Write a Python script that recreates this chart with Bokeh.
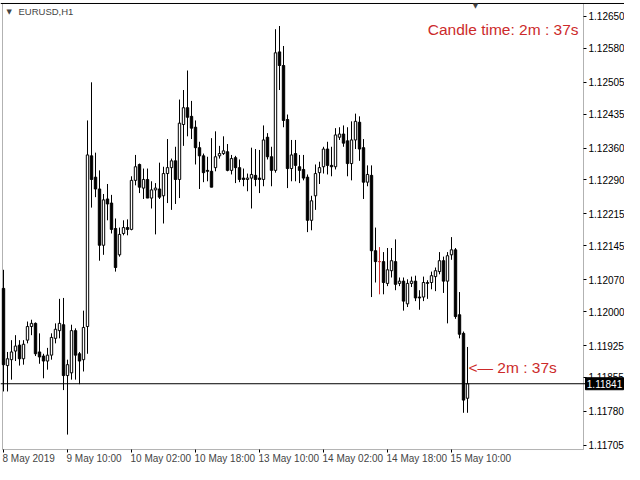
from bokeh.core.properties import value
from bokeh.embed import file_html
from bokeh.models import (BoxAnnotation, ColumnDataSource, FixedTicker, Label, LinearAxis,
                          PrintfTickFormatter, Range1d, Span)
from bokeh.plotting import figure
from bokeh.resources import INLINE

# EURUSD H1 bars, 8 May 2019 18:00 .. 15 May 2019 14:00
symbol = "EURUSD,H1"
opens = [
    1.12051, 1.11881, 1.11894, 1.11913, 1.11926, 1.11896, 1.11937, 1.11967,
    1.11974, 1.11911, 1.11902, 1.11891, 1.11904, 1.11941, 1.11958, 1.11971,
    1.11859, 1.11865, 1.11958, 1.11907, 1.11894, 1.11967, 1.12343, 1.12296,
    1.12270, 1.12146, 1.12248, 1.12239, 1.12183, 1.12125, 1.12172, 1.12185,
    1.12181, 1.12289, 1.12324, 1.12272, 1.12291, 1.12250, 1.12268, 1.12270,
    1.12255, 1.12304, 1.12317, 1.12332, 1.12291, 1.12412, 1.12449, 1.12430,
    1.12406, 1.12361, 1.12343, 1.12311, 1.12309, 1.12317, 1.12343, 1.12348,
    1.12352, 1.12311, 1.12339, 1.12317, 1.12294, 1.12291, 1.12294, 1.12300,
    1.12294, 1.12291, 1.12384, 1.12341, 1.12311, 1.12572, 1.12542, 1.12423,
    1.12315, 1.12348, 1.12319, 1.12313, 1.12296, 1.12201, 1.12255, 1.12306,
    1.12319, 1.12358, 1.12322, 1.12319, 1.12384, 1.12391, 1.12376, 1.12326,
    1.12378, 1.12417, 1.12361, 1.12285, 1.12300, 1.12134, 1.12110, 1.12110,
    1.12062, 1.12090, 1.12110, 1.12062, 1.12067, 1.12017, 1.12062, 1.12067,
    1.12032, 1.12032, 1.12062, 1.12064, 1.12077, 1.12088, 1.12112, 1.12067,
    1.12125, 1.12136, 1.11993, 1.11952, 1.11809,
]
highs = [
    1.12092, 1.11911, 1.11937, 1.11948, 1.11937, 1.11937, 1.11978, 1.11982,
    1.11976, 1.11952, 1.11907, 1.11920, 1.11952, 1.11974, 1.12028, 1.12030,
    1.11894, 1.11971, 1.11963, 1.11911, 1.12002, 1.12421, 1.12505, 1.12350,
    1.12311, 1.12259, 1.12281, 1.12257, 1.12205, 1.12185, 1.12201, 1.12203,
    1.12298, 1.12345, 1.12326, 1.12315, 1.12315, 1.12287, 1.12283, 1.12328,
    1.12319, 1.12380, 1.12337, 1.12363, 1.12467, 1.12488, 1.12531, 1.12464,
    1.12421, 1.12374, 1.12348, 1.12341, 1.12382, 1.12397, 1.12365, 1.12386,
    1.12369, 1.12345, 1.12343, 1.12335, 1.12315, 1.12304, 1.12361, 1.12358,
    1.12356, 1.12410, 1.12393, 1.12363, 1.12622, 1.12629, 1.12585, 1.12434,
    1.12378, 1.12378, 1.12345, 1.12345, 1.12302, 1.12255, 1.12324, 1.12330,
    1.12363, 1.12374, 1.12363, 1.12404, 1.12406, 1.12410, 1.12406, 1.12419,
    1.12436, 1.12430, 1.12380, 1.12322, 1.12322, 1.12185, 1.12142, 1.12131,
    1.12140, 1.12140, 1.12159, 1.12075, 1.12075, 1.12071, 1.12077, 1.12079,
    1.12047, 1.12077, 1.12069, 1.12088, 1.12097, 1.12131, 1.12121, 1.12131,
    1.12164, 1.12140, 1.12043, 1.11956, 1.11922,
]
lows = [
    1.11824, 1.11824, 1.11850, 1.11891, 1.11881, 1.11883, 1.11930, 1.11948,
    1.11902, 1.11885, 1.11853, 1.11872, 1.11894, 1.11930, 1.11941, 1.11827,
    1.11729, 1.11850, 1.11850, 1.11840, 1.11868, 1.11907, 1.12229, 1.12252,
    1.12112, 1.12125, 1.12201, 1.12172, 1.12088, 1.12121, 1.12168, 1.12168,
    1.12179, 1.12278, 1.12261, 1.12248, 1.12250, 1.12227, 1.12170, 1.12248,
    1.12194, 1.12239, 1.12224, 1.12237, 1.12250, 1.12365, 1.12386, 1.12380,
    1.12324, 1.12270, 1.12285, 1.12287, 1.12274, 1.12309, 1.12337, 1.12345,
    1.12309, 1.12302, 1.12283, 1.12285, 1.12276, 1.12265, 1.12227, 1.12276,
    1.12261, 1.12276, 1.12335, 1.12276, 1.12306, 1.12488, 1.12406, 1.12272,
    1.12287, 1.12287, 1.12283, 1.12289, 1.12175, 1.12179, 1.12224, 1.12281,
    1.12304, 1.12302, 1.12298, 1.12313, 1.12378, 1.12363, 1.12298, 1.12289,
    1.12358, 1.12332, 1.12248, 1.12276, 1.12032, 1.12064, 1.12038, 1.12038,
    1.12056, 1.12075, 1.12047, 1.12056, 1.12002, 1.12010, 1.12054, 1.12023,
    1.12004, 1.12023, 1.12028, 1.12049, 1.12045, 1.12082, 1.12041, 1.11974,
    1.12114, 1.11984, 1.11941, 1.11777, 1.11777,
]
closes = [
    1.11883, 1.11896, 1.11911, 1.11924, 1.11896, 1.11928, 1.11967, 1.11974,
    1.11907, 1.11900, 1.11891, 1.11904, 1.11943, 1.11961, 1.11974, 1.11859,
    1.11883, 1.11958, 1.11904, 1.11891, 1.11965, 1.12345, 1.12291, 1.12270,
    1.12146, 1.12246, 1.12237, 1.12181, 1.12097, 1.12170, 1.12185, 1.12181,
    1.12289, 1.12319, 1.12274, 1.12291, 1.12250, 1.12268, 1.12272, 1.12252,
    1.12304, 1.12317, 1.12332, 1.12291, 1.12415, 1.12449, 1.12428, 1.12404,
    1.12361, 1.12343, 1.12306, 1.12309, 1.12274, 1.12341, 1.12348, 1.12354,
    1.12311, 1.12337, 1.12317, 1.12291, 1.12291, 1.12294, 1.12302, 1.12291,
    1.12291, 1.12378, 1.12341, 1.12311, 1.12570, 1.12542, 1.12421, 1.12315,
    1.12345, 1.12322, 1.12311, 1.12294, 1.12201, 1.12244, 1.12304, 1.12317,
    1.12358, 1.12322, 1.12319, 1.12389, 1.12391, 1.12371, 1.12326, 1.12378,
    1.12419, 1.12358, 1.12285, 1.12302, 1.12134, 1.12110, 1.12110, 1.12064,
    1.12092, 1.12112, 1.12060, 1.12067, 1.12023, 1.12062, 1.12067, 1.12030,
    1.12030, 1.12064, 1.12064, 1.12079, 1.12090, 1.12112, 1.12067, 1.12123,
    1.12136, 1.11989, 1.11950, 1.11805, 1.11841,
]
marked_bar = 94          # the red doji
last_price = 1.11841
price_ticks = [1.12650, 1.12580, 1.12505, 1.12435, 1.12360, 1.12290, 1.12215,
               1.12145, 1.12070, 1.12000, 1.11925, 1.11855, 1.11780, 1.11705]
time_labels = ["8 May 2019", "9 May 10:00", "10 May 02:00", "10 May 18:00",
               "13 May 10:00", "14 May 02:00", "14 May 18:00", "15 May 10:00"]
time_label_step = 16
timer = "2m : 37s"

RED = "#cc2a2a"
FONT = "Liberation Sans"

# chart window: the frame covers the whole canvas, the price/time scales sit inside it
X0, X1 = -0.75, 155.25
Y0, Y1 = 1.116631, 1.126852
BOX_L, BOX_R = -0.25, 145.0
BOX_B, BOX_T = 1.116961, 1.126786

x = list(range(len(opens)))
source = ColumnDataSource(dict(
    x=x, high=highs, low=lows,
    top=[max(o, c) for o, c in zip(opens, closes)],
    bottom=[min(o, c) for o, c in zip(opens, closes)],
    fill=["white" if c > o else "black" for o, c in zip(opens, closes)],
    edge=[RED if i == marked_bar else "black" for i in x],
))

p = figure(width=624, height=464, output_backend="svg", toolbar_location=None,
           x_range=Range1d(X0, X1), y_range=Range1d(Y0, Y1),
           x_axis_location=None, y_axis_location=None,
           min_border_left=0, min_border_top=0, min_border_right=0, min_border_bottom=0)
p.background_fill_color = "white"
p.border_fill_color = "white"
p.outline_line_color = None
p.xgrid.visible = False
p.ygrid.visible = False

p.add_layout(BoxAnnotation(left=BOX_L, right=BOX_R, bottom=BOX_B, top=BOX_T,
                           fill_alpha=0, line_color="black", line_width=1, level="underlay"))
p.add_layout(Span(location=BOX_T, dimension="width", line_color="black", line_width=1))

p.segment(x0="x", y0="low", x1="x", y1="high", source=source, line_color="edge", line_width=1)
p.vbar(x="x", width=0.6, top="top", bottom="bottom", source=source,
       fill_color="fill", line_color="edge", line_width=1)

p.add_layout(Span(location=last_price, dimension="width", line_color="black", line_width=1))

# price scale on the right edge of the chart box
yaxis = LinearAxis(fixed_location=BOX_R, ticker=FixedTicker(ticks=price_ticks),
                   formatter=PrintfTickFormatter(format="%.5f"))
yaxis.axis_line_color = None
yaxis.major_tick_out = 3
yaxis.major_tick_in = 0
yaxis.minor_tick_out = 0
yaxis.minor_tick_in = 0
yaxis.major_label_standoff = 2
yaxis.major_label_text_font = FONT
yaxis.major_label_text_font_size = "10px"
yaxis.major_label_text_color = "black"
p.add_layout(yaxis, "right")

# current price tag over the price scale
tag = ColumnDataSource(dict(x=[BOX_R + 5.25], y=[last_price], text=[f"{last_price:.5f}"]))
r_box = p.rect(x="x", y="y", width=38, height=12, width_units="screen", height_units="screen",
               source=tag, fill_color="black", line_color="black")
r_txt = p.text(x="x", y="y", text="text", source=tag, text_color="white",
               text_font=value(FONT), text_font_size="10px", text_align="center",
               text_baseline="middle")
r_box.level = "overlay"
r_txt.level = "overlay"

# time scale: ticks from the axis, labels left-aligned at each tick like MT4
tick_idx = [i * time_label_step for i in range(len(time_labels))]
xaxis = LinearAxis(fixed_location=BOX_B, ticker=FixedTicker(ticks=tick_idx))
xaxis.major_label_overrides = {t: "" for t in tick_idx}
xaxis.axis_line_color = None
xaxis.major_tick_out = 3
xaxis.major_tick_in = 0
xaxis.minor_tick_out = 0
xaxis.minor_tick_in = 0
p.add_layout(xaxis, "below")
for t, s in zip(tick_idx, time_labels):
    p.add_layout(Label(x=t, y=12, x_units="data", y_units="screen", text=s, x_offset=-1,
                       text_font=FONT, text_font_size="10px", text_align="left",
                       text_baseline="top"))

# chart decorations (screen units are measured from the canvas bottom-left)
p.add_layout(Label(x=6, y=453, x_units="screen", y_units="screen", text="\u25bc",
                   text_font="DejaVu Sans", text_font_size="7px", text_baseline="middle"))
p.add_layout(Label(x=18, y=453, x_units="screen", y_units="screen", text=symbol,
                   text_font=FONT, text_font_size="9.5px", text_baseline="middle"))
p.add_layout(Label(x=475, y=459, x_units="screen", y_units="screen", text="\u25bc",
                   text_font="DejaVu Sans", text_font_size="7px", text_baseline="middle",
                   text_align="center"))
p.add_layout(Label(x=578, y=435, x_units="screen", y_units="screen",
                   text="Candle time: " + timer, text_font=FONT, text_font_size="15.5px",
                   text_color=RED, text_align="right", text_baseline="middle"))
p.add_layout(Label(x=468, y=97, x_units="screen", y_units="screen",
                   text="<\u2014 " + timer, text_font=FONT, text_font_size="15.5px",
                   text_color=RED, text_align="left", text_baseline="middle"))

open("out.html", "w").write(file_html(p, INLINE))
